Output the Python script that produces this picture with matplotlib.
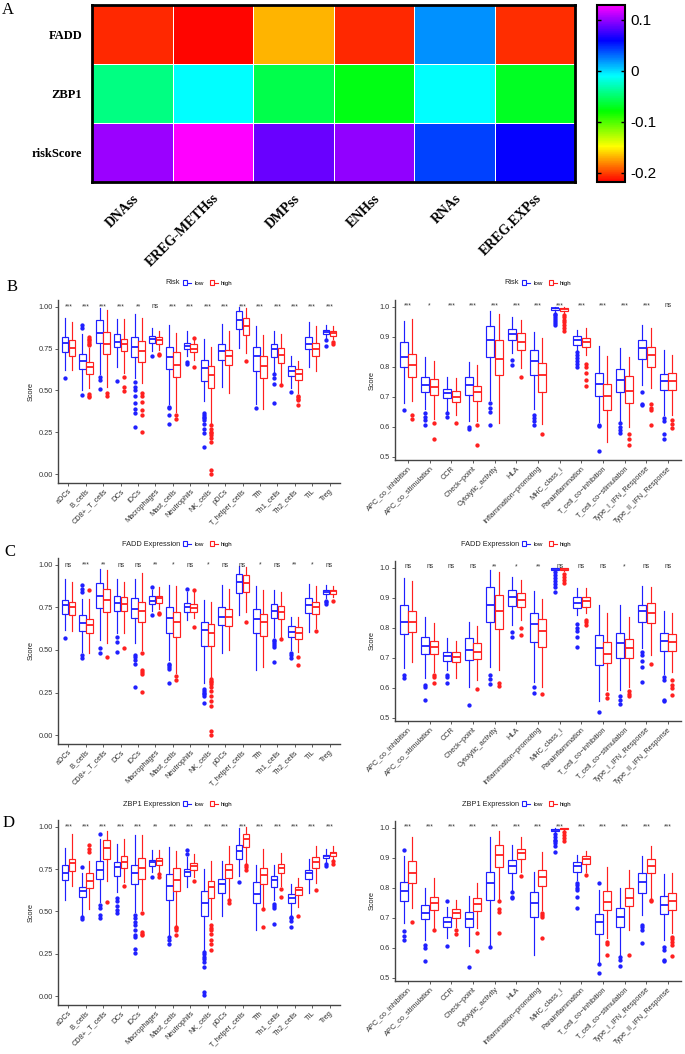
import matplotlib.pyplot as plt
import numpy as np
from matplotlib.colors import LinearSegmentedColormap
from matplotlib.patches import Patch
from matplotlib.lines import Line2D
from matplotlib.legend_handler import HandlerTuple

plt.rcParams['font.family'] = ['Liberation Sans', 'DejaVu Sans']

# ---- panel A data: correlation with stemness indices ----
hm_rows = ['FADD', 'ZBP1', 'riskScore']
hm_cols = ['DNAss', 'EREG-METHss', 'DMPss', 'ENHss', 'RNAs', 'EREG.EXPss']
fadd_cor = [-0.206, -0.216, -0.169, -0.206, 0.020, -0.205]
zbp1_cor = [-0.044, -0.010, -0.059, -0.073, -0.010, -0.070]
risk_cor = [0.101, 0.129, 0.087, 0.099, 0.042, 0.060]

# ---- boxplot categories ----
cells = ['aDCs', 'B_cells', 'CD8+_T_cells', 'DCs', 'iDCs', 'Macrophages', 'Mast_cells',
         'Neutrophils', 'NK_cells', 'pDCs', 'T_helper_cells', 'Tfh', 'Th1_cells',
         'Th2_cells', 'TIL', 'Treg']
funcs = ['APC_co_inhibition', 'APC_co_stimulation', 'CCR', 'Check\u2212point',
         'Cytolytic_activity', 'HLA', 'Inflammation\u2212promoting', 'MHC_class_I',
         'Parainflammation', 'T_cell_co\u2212inhibition', 'T_cell_co\u2212stimulation',
         'Type_I_IFN_Response', 'Type_II_IFN_Response']

# box stats: (whislo, q1, median, q3, whishi)
# B: risk groups, immune cells
b_cell_low = [(0.62, 0.729, 0.782, 0.818, 0.932), (0.503, 0.629, 0.677, 0.719, 0.84),
              (0.60, 0.786, 0.846, 0.918, 0.992), (0.643, 0.758, 0.792, 0.836, 0.926),
              (0.573, 0.699, 0.759, 0.818, 0.958), (0.733, 0.786, 0.806, 0.826, 0.872),
              (0.42, 0.627, 0.699, 0.762, 0.892), (0.703, 0.746, 0.766, 0.786, 0.858),
              (0.44, 0.557, 0.633, 0.683, 0.806), (0.523, 0.683, 0.733, 0.776, 0.898),
              (0.753, 0.866, 0.918, 0.972, 1.0), (0.42, 0.619, 0.703, 0.759, 0.882),
              (0.613, 0.699, 0.749, 0.778, 0.856), (0.513, 0.587, 0.619, 0.649, 0.707),
              (0.639, 0.746, 0.778, 0.818, 0.906), (0.812, 0.836, 0.852, 0.862, 0.892)]
b_cell_low_out = [[0.577], [0.89, 0.875, 0.476], [0.58, 0.56, 0.51], [0.559],
                  [0.553, 0.52, 0.50, 0.47, 0.423, 0.387, 0.367, 0.283], [0.707],
                  [0.403, 0.393, 0.353, 0.303], [0.669, 0.659],
                  [0.363, 0.353, 0.343, 0.333, 0.323, 0.303, 0.273, 0.244, 0.164], [], [],
                  [0.395], [0.597, 0.573, 0.539, 0.423], [0.493], [], [0.80, 0.765]]
b_cell_high = [(0.62, 0.707, 0.753, 0.802, 0.906), (0.516, 0.596, 0.639, 0.668, 0.753),
               (0.523, 0.719, 0.778, 0.852, 0.978), (0.603, 0.733, 0.778, 0.806, 0.926),
               (0.543, 0.673, 0.733, 0.798, 0.932), (0.742, 0.778, 0.802, 0.822, 0.858),
               (0.37, 0.583, 0.653, 0.727, 0.846), (0.683, 0.727, 0.75, 0.776, 0.80),
               (0.30, 0.517, 0.593, 0.649, 0.762), (0.483, 0.653, 0.703, 0.742, 0.858),
               (0.722, 0.832, 0.886, 0.932, 0.99), (0.39, 0.573, 0.647, 0.707, 0.832),
               (0.547, 0.667, 0.713, 0.753, 0.838), (0.483, 0.563, 0.599, 0.629, 0.677),
               (0.619, 0.707, 0.746, 0.782, 0.886), (0.806, 0.826, 0.842, 0.856, 0.882)]
b_cell_high_out = [[], [0.82, 0.81, 0.80, 0.79, 0.78, 0.77, 0.48, 0.47, 0.46], [0.483, 0.469],
                   [0.583, 0.523, 0.497], [0.483, 0.469, 0.433, 0.383, 0.353, 0.253],
                   [0.72, 0.71], [0.353, 0.327], [0.812, 0.643],
                   [0.293, 0.273, 0.254, 0.244, 0.234, 0.214, 0.194, 0.024, 0.0], [],
                   [0.675], [], [0.53], [0.47, 0.46, 0.45, 0.443, 0.413], [], [0.79, 0.78]]
b_cell_sig = ['***', '***', '***', '***', '**', 'ns', '***', '***', '***', '***', '***',
              '***', '***', '***', '***', '***']

# B: risk groups, immune functions
b_func_low = [(0.68, 0.799, 0.834, 0.882, 0.953), (0.66, 0.718, 0.74, 0.766, 0.834),
              (0.65, 0.698, 0.712, 0.726, 0.766), (0.62, 0.707, 0.74, 0.766, 0.817),
              (0.69, 0.833, 0.889, 0.936, 0.986), (0.846, 0.89, 0.91, 0.925, 0.965),
              (0.66, 0.773, 0.82, 0.857, 0.918), (0.984, 0.99, 0.995, 0.998, 1.0),
              (0.857, 0.873, 0.89, 0.903, 0.923), (0.617, 0.703, 0.742, 0.78, 0.87),
              (0.62, 0.718, 0.757, 0.792, 0.862), (0.74, 0.828, 0.862, 0.889, 0.94),
              (0.64, 0.723, 0.754, 0.777, 0.857)]
b_func_low_out = [[0.657], [0.646, 0.634, 0.623, 0.607], [0.646, 0.634], [0.601, 0.592],
                  [0.679, 0.662, 0.651, 0.607], [0.824, 0.807], [0.64, 0.63, 0.62, 0.605],
                  [0.978, 0.972, 0.966, 0.96, 0.953, 0.946, 0.94],
                  [0.85, 0.84, 0.83, 0.82, 0.81, 0.80], [0.607, 0.604, 0.52],
                  [0.612, 0.60, 0.59, 0.58], [0.718, 0.678, 0.673],
                  [0.63, 0.62, 0.578, 0.56]]
b_func_high = [(0.686, 0.766, 0.808, 0.843, 0.96), (0.628, 0.706, 0.733, 0.759, 0.82),
               (0.64, 0.682, 0.699, 0.719, 0.763), (0.62, 0.687, 0.718, 0.738, 0.806),
               (0.612, 0.773, 0.828, 0.889, 0.978), (0.796, 0.857, 0.884, 0.912, 0.958),
               (0.61, 0.718, 0.773, 0.813, 0.896), (0.98, 0.988, 0.993, 0.997, 1.0),
               (0.84, 0.866, 0.884, 0.896, 0.93), (0.55, 0.657, 0.702, 0.742, 0.836),
               (0.60, 0.681, 0.721, 0.77, 0.832), (0.73, 0.801, 0.84, 0.868, 0.93),
               (0.64, 0.723, 0.753, 0.781, 0.84)]
b_func_high_out = [[0.64, 0.628], [0.612, 0.559], [0.612], [0.607, 0.54], [], [0.768],
                   [0.577], [0.973, 0.965, 0.958, 0.95, 0.94, 0.93, 0.92],
                   [0.81, 0.80, 0.78, 0.755, 0.735], [], [0.577, 0.56, 0.54],
                   [0.677, 0.664, 0.657, 0.607], [0.623, 0.61, 0.596]]
b_func_sig = ['***', '*', '***', '***', '***', '***', '***', '***', '***', '***', '***',
              '***', 'ns']

# C: FADD expression, immune cells
c_cell_low = [(0.618, 0.712, 0.765, 0.794, 0.916), (0.49, 0.612, 0.661, 0.704, 0.80),
              (0.559, 0.745, 0.814, 0.892, 0.974), (0.598, 0.731, 0.775, 0.818, 0.916),
              (0.539, 0.686, 0.739, 0.804, 0.916), (0.726, 0.771, 0.79, 0.814, 0.85),
              (0.441, 0.598, 0.686, 0.751, 0.88), (0.676, 0.725, 0.751, 0.775, 0.84),
              (0.304, 0.524, 0.618, 0.663, 0.794), (0.48, 0.647, 0.696, 0.751, 0.88),
              (0.706, 0.837, 0.898, 0.947, 0.994), (0.382, 0.598, 0.682, 0.741, 0.873),
              (0.578, 0.69, 0.731, 0.769, 0.85), (0.50, 0.578, 0.608, 0.641, 0.692),
              (0.608, 0.72, 0.765, 0.804, 0.888), (0.804, 0.829, 0.843, 0.853, 0.88)]
c_cell_low_out = [[0.57], [0.88, 0.86, 0.843, 0.47, 0.45], [0.51, 0.48], [0.578, 0.549, 0.49],
                  [0.47, 0.46, 0.44, 0.42, 0.284], [0.868, 0.706],
                  [0.42, 0.41, 0.40, 0.39, 0.304], [0.857],
                  [0.27, 0.26, 0.25, 0.24, 0.23, 0.186], [], [], [],
                  [0.56, 0.55, 0.54, 0.53, 0.52, 0.432], [0.48, 0.47, 0.45], [],
                  [0.79, 0.78, 0.77]]
c_cell_high = [(0.614, 0.706, 0.755, 0.784, 0.897), (0.48, 0.598, 0.647, 0.682, 0.80),
               (0.539, 0.725, 0.794, 0.857, 0.97), (0.60, 0.731, 0.771, 0.81, 0.897),
               (0.50, 0.667, 0.731, 0.784, 0.951), (0.739, 0.778, 0.804, 0.818, 0.87),
               (0.363, 0.578, 0.667, 0.725, 0.873), (0.686, 0.725, 0.749, 0.771, 0.84),
               (0.343, 0.524, 0.598, 0.651, 0.784), (0.50, 0.641, 0.692, 0.741, 0.857),
               (0.725, 0.843, 0.892, 0.941, 0.99), (0.402, 0.582, 0.663, 0.712, 0.85),
               (0.578, 0.682, 0.725, 0.761, 0.84), (0.49, 0.563, 0.602, 0.637, 0.692),
               (0.63, 0.712, 0.755, 0.78, 0.876), (0.81, 0.83, 0.845, 0.855, 0.876)]
c_cell_high_out = [[], [0.853], [0.461], [0.51], [0.48, 0.38, 0.37, 0.36, 0.253], [0.72, 0.71],
                   [0.347, 0.324], [0.853, 0.633],
                   [0.33, 0.32, 0.31, 0.30, 0.28, 0.26, 0.23, 0.20, 0.17, 0.025, 0.0], [],
                   [0.667], [], [0.563], [0.461, 0.412], [0.61], [0.79]]
c_cell_sig = ['ns', '***', '**', 'ns', 'ns', '**', '*', 'ns', '*', 'ns', 'ns', '*', 'ns',
              '**', '*', 'ns']

# C: FADD expression, immune functions
c_func_low = [(0.665, 0.78, 0.82, 0.877, 0.966), (0.632, 0.713, 0.74, 0.771, 0.838),
              (0.66, 0.691, 0.707, 0.721, 0.765), (0.604, 0.693, 0.727, 0.765, 0.821),
              (0.67, 0.819, 0.877, 0.936, 0.993), (0.81, 0.873, 0.904, 0.927, 0.97),
              (0.621, 0.752, 0.812, 0.851, 0.922), (0.99, 0.994, 0.997, 0.999, 1.0),
              (0.843, 0.866, 0.884, 0.902, 0.932), (0.555, 0.677, 0.732, 0.777, 0.877),
              (0.593, 0.701, 0.749, 0.784, 0.877), (0.732, 0.821, 0.855, 0.877, 0.94),
              (0.648, 0.723, 0.755, 0.782, 0.855)]
c_func_low_out = [[0.642, 0.632], [0.61, 0.602, 0.56], [0.643, 0.635, 0.615], [0.543],
                  [0.642, 0.63, 0.613], [0.788, 0.771], [0.602, 0.582],
                  [0.985, 0.975, 0.965, 0.955, 0.945, 0.935, 0.921],
                  [0.813, 0.80, 0.79, 0.77, 0.735], [0.521], [0.573, 0.56, 0.547],
                  [0.72, 0.71, 0.69, 0.67, 0.621], [0.635, 0.628, 0.56, 0.555]]
c_func_high = [(0.688, 0.785, 0.821, 0.858, 0.955), (0.654, 0.713, 0.735, 0.757, 0.818),
               (0.632, 0.688, 0.704, 0.721, 0.757), (0.627, 0.697, 0.719, 0.751, 0.807),
               (0.66, 0.796, 0.855, 0.91, 0.988), (0.827, 0.871, 0.893, 0.916, 0.96),
               (0.604, 0.737, 0.791, 0.829, 0.896), (0.99, 0.993, 0.996, 0.999, 1.0),
               (0.849, 0.871, 0.89, 0.902, 0.932), (0.593, 0.684, 0.713, 0.752, 0.851),
               (0.604, 0.699, 0.732, 0.763, 0.836), (0.71, 0.816, 0.851, 0.884, 0.937),
               (0.654, 0.724, 0.752, 0.78, 0.849)]
c_func_high_out = [[], [0.643, 0.635, 0.615], [], [0.595], [0.615, 0.607], [0.799, 0.777],
                   [0.579], [0.98, 0.97, 0.96, 0.95], [0.827, 0.82, 0.81], [0.58, 0.565],
                   [0.59, 0.58, 0.573], [0.68], [0.628, 0.61, 0.60, 0.575]]
c_func_sig = ['ns', 'ns', 'ns', 'ns', '**', '*', '**', 'ns', 'ns', 'ns', '*', 'ns', 'ns']

# D: ZBP1 expression, immune cells
d_cell_low = [(0.569, 0.686, 0.725, 0.776, 0.875), (0.476, 0.584, 0.618, 0.647, 0.725),
              (0.555, 0.692, 0.745, 0.796, 0.93), (0.614, 0.712, 0.761, 0.79, 0.898),
              (0.496, 0.663, 0.727, 0.776, 0.95), (0.731, 0.771, 0.79, 0.804, 0.863),
              (0.359, 0.569, 0.653, 0.722, 0.882), (0.643, 0.712, 0.731, 0.751, 0.82),
              (0.271, 0.476, 0.551, 0.618, 0.751), (0.476, 0.608, 0.663, 0.692, 0.80),
              (0.712, 0.81, 0.859, 0.894, 0.99), (0.388, 0.549, 0.604, 0.672, 0.776),
              (0.565, 0.647, 0.686, 0.712, 0.776), (0.476, 0.549, 0.58, 0.604, 0.663),
              (0.608, 0.692, 0.725, 0.747, 0.81), (0.79, 0.814, 0.825, 0.835, 0.868)]
d_cell_low_out = [[], [0.765, 0.47, 0.453], [0.957, 0.54, 0.52, 0.48, 0.46],
                  [0.58, 0.56, 0.53, 0.51, 0.49],
                  [0.478, 0.46, 0.44, 0.42, 0.39, 0.36, 0.35, 0.28, 0.254], [0.706],
                  [0.35, 0.33, 0.31], [0.86, 0.84],
                  [0.26, 0.25, 0.23, 0.22, 0.20, 0.17, 0.025, 0.005], [], [0.673], [],
                  [0.545, 0.53, 0.52, 0.424], [0.47, 0.46, 0.445, 0.41], [], [0.78, 0.77]]
d_cell_high = [(0.653, 0.741, 0.784, 0.81, 0.96), (0.516, 0.639, 0.678, 0.725, 0.796),
               (0.682, 0.81, 0.875, 0.92, 0.976), (0.672, 0.757, 0.79, 0.829, 0.93),
               (0.506, 0.692, 0.755, 0.816, 0.95), (0.731, 0.776, 0.80, 0.816, 0.863),
               (0.418, 0.62, 0.686, 0.757, 0.859), (0.702, 0.745, 0.767, 0.784, 0.839),
               (0.457, 0.58, 0.643, 0.678, 0.80), (0.575, 0.696, 0.745, 0.78, 0.888),
               (0.78, 0.882, 0.93, 0.96, 1.0), (0.525, 0.663, 0.718, 0.755, 0.868),
               (0.653, 0.727, 0.757, 0.78, 0.843), (0.525, 0.598, 0.624, 0.647, 0.698),
               (0.667, 0.757, 0.79, 0.82, 0.888), (0.80, 0.829, 0.843, 0.853, 0.888)]
d_cell_high_out = [[], [0.89, 0.87, 0.85], [0.555], [0.653], [0.49, 0.38, 0.37, 0.36],
                   [0.72, 0.706], [0.41, 0.40, 0.39, 0.36], [0.682],
                   [0.418, 0.40, 0.39, 0.37, 0.33, 0.31, 0.27], [0.565, 0.55],
                   [0.776, 0.76, 0.745], [0.516, 0.41], [0.633, 0.588], [0.476], [0.627],
                   [0.796, 0.78]]
d_cell_sig = ['***', '***', '***', '***', '***', '**', '***', '***', '***', '***', '***',
              '***', '***', '***', '***', '***']

# D: ZBP1 expression, immune functions
d_func_low = [(0.683, 0.758, 0.791, 0.821, 0.907), (0.627, 0.696, 0.718, 0.743, 0.799),
              (0.632, 0.671, 0.688, 0.704, 0.738), (0.607, 0.671, 0.696, 0.721, 0.773),
              (0.61, 0.76, 0.815, 0.854, 0.97), (0.793, 0.851, 0.873, 0.893, 0.943),
              (0.577, 0.702, 0.751, 0.788, 0.854), (0.987, 0.99, 0.993, 0.995, 1.0),
              (0.827, 0.854, 0.873, 0.888, 0.91), (0.55, 0.646, 0.685, 0.713, 0.793),
              (0.577, 0.669, 0.704, 0.732, 0.799), (0.71, 0.784, 0.821, 0.851, 0.907),
              (0.627, 0.713, 0.743, 0.773, 0.846)]
d_func_low_out = [[0.927, 0.655, 0.64, 0.628], [0.61, 0.60, 0.557], [0.757, 0.607], [0.538],
                  [0.604], [0.785, 0.77, 0.765], [],
                  [0.98, 0.97, 0.96, 0.955, 0.95, 0.94, 0.92],
                  [0.815, 0.81, 0.80, 0.793, 0.771, 0.732], [0.815, 0.548, 0.517],
                  [0.569, 0.56, 0.54], [0.677, 0.67, 0.66, 0.615],
                  [0.604, 0.593, 0.56, 0.555]]
d_func_high = [(0.732, 0.818, 0.851, 0.891, 0.97), (0.666, 0.727, 0.751, 0.771, 0.832),
               (0.669, 0.699, 0.718, 0.73, 0.76), (0.666, 0.724, 0.746, 0.768, 0.815),
               (0.76, 0.871, 0.91, 0.943, 0.99), (0.854, 0.897, 0.918, 0.929, 0.97),
               (0.727, 0.807, 0.836, 0.86, 0.921), (0.99, 0.995, 0.997, 0.999, 1.0),
               (0.854, 0.88, 0.895, 0.907, 0.924), (0.632, 0.727, 0.754, 0.791, 0.871),
               (0.66, 0.74, 0.768, 0.799, 0.86), (0.766, 0.849, 0.873, 0.896, 0.94),
               (0.649, 0.727, 0.757, 0.782, 0.851)]
d_func_high_out = [[0.688], [0.66], [0.66, 0.645], [0.649, 0.591], [0.755, 0.73, 0.72, 0.649],
                   [0.84], [0.718, 0.71, 0.702, 0.632], [0.985, 0.975, 0.965, 0.958],
                   [0.843], [0.62, 0.613, 0.577], [0.577], [0.76, 0.755],
                   [0.638, 0.63, 0.62, 0.61, 0.573]]
d_func_sig = ['***'] * 13

BLUE = '#1f1fff'
RED = '#ff1f1f'
W, H = 685, 1054

fig = plt.figure(figsize=(W / 100, H / 100), dpi=100)


def px_axes(x0, y0, x1, y1):
    # axes from pixel box (top-left origin)
    return fig.add_axes([x0 / W, 1 - y1 / H, (x1 - x0) / W, (y1 - y0) / H])


# ---------------- panel A ----------------
cmap = LinearSegmentedColormap.from_list(
    'rb', ['#FF0000', '#FFFF00', '#00FF00', '#00FFFF', '#0000FF', '#FF00FF'])
ax = px_axes(92, 5, 575, 182)
mat = np.array([fadd_cor, zbp1_cor, risk_cor])
mesh = ax.pcolormesh(mat, cmap=cmap, vmin=-0.218, vmax=0.129,
                     edgecolors='white', linewidth=0.5)
ax.set_ylim(len(hm_rows), 0)
ax.set_yticks(np.arange(len(hm_rows)) + 0.5)
ax.set_yticklabels(hm_rows, family='Liberation Serif', fontweight='bold', fontsize=9)
ax.set_xticks(np.arange(len(hm_cols)) + 0.5)
ax.set_xticklabels(hm_cols, family='Liberation Serif', fontweight='bold', fontsize=10,
                   rotation=45, ha='right', va='top', rotation_mode='anchor')
ax.tick_params(length=0, pad=7)
for s in ax.spines.values():
    s.set_linewidth(2)
    s.set_color('black')

cax = px_axes(597, 5, 625, 182)
cb = fig.colorbar(mesh, cax=cax, ticks=[0.1, 0, -0.1, -0.2])
cb.ax.set_yticklabels(['0.1', '0', '-0.1', '-0.2'])
cb.outline.set_linewidth(1.5)
cb.ax.tick_params(direction='in', left=True, right=True, length=3, width=1,
                  labelsize=11, pad=4)

# ---------------- boxplot panels ----------------


def box_panel(ax, cats, low, high, low_out, high_out, sig, ylim, yticks, ylabs, sig_y):
    pos = np.arange(1, len(cats) + 1)
    for stats, outs, off, col in [(low, low_out, -0.2, BLUE), (high, high_out, 0.2, RED)]:
        st = [dict(whislo=s[0], q1=s[1], med=s[2], q3=s[3], whishi=s[4], fliers=o)
              for s, o in zip(stats, outs)]
        ax.bxp(st, positions=pos + off, widths=0.38, patch_artist=True, showcaps=False,
               boxprops=dict(facecolor='white', edgecolor=col, linewidth=0.85),
               whiskerprops=dict(color=col, linewidth=0.85),
               medianprops=dict(color=col, linewidth=1.3),
               flierprops=dict(marker='o', markersize=2.1, markerfacecolor=col,
                               markeredgecolor=col, linestyle='none'))
    for x, s in zip(pos, sig):
        ax.text(x, sig_y, s, ha='center', va='baseline', fontsize=4.8, color='#333333')
    ax.set_xlim(0.4, len(cats) + 0.6)
    ax.set_ylim(*ylim)
    ax.set_yticks(yticks)
    ax.set_yticklabels(ylabs)
    ax.set_xticks(pos)
    ax.set_xticklabels(cats, rotation=45, ha='right', va='top', rotation_mode='anchor')
    ax.set_ylabel('Score', fontsize=5.3, color='#222222', labelpad=3)
    for side in ['top', 'right']:
        ax.spines[side].set_visible(False)
    for side in ['left', 'bottom']:
        ax.spines[side].set_color('#444444')
        ax.spines[side].set_linewidth(1.0)
    ax.tick_params(length=2, width=0.6, color='#444444', labelsize=5.3,
                   labelcolor='#333333', pad=1.5)


def add_legend(title, x_end, y):
    fig.text(x_end / W, 1 - y / H, title, ha='right', va='center', fontsize=5.3,
             color='#222222')
    handles = [(Patch(facecolor='white', edgecolor=c, linewidth=0.8),
                Line2D([], [], color=c, linewidth=0.8)) for c in (BLUE, RED)]
    fig.legend(handles, ['low', 'high'], handler_map={tuple: HandlerTuple(ndivide=None)},
               loc='center left', bbox_to_anchor=((x_end + 3) / W, 1 - y / H), ncol=2,
               frameon=False, fontsize=4.5, handlelength=1.3, handleheight=0.9,
               handletextpad=0.5, columnspacing=1.0, borderpad=0, borderaxespad=0)


left_ticks = [0.0, 0.25, 0.5, 0.75, 1.0]
left_labs = ['0.00', '0.25', '0.50', '0.75', '1.00']
right_ticks = [0.5, 0.6, 0.7, 0.8, 0.9, 1.0]
right_labs = ['0.5', '0.6', '0.7', '0.8', '0.9', '1.0']

rows = [
    (300, 483, 300, 460, 283, 'Risk',
     b_cell_low, b_cell_high, b_cell_low_out, b_cell_high_out, b_cell_sig,
     b_func_low, b_func_high, b_func_low_out, b_func_high_out, b_func_sig),
    (558, 744, 561, 721, 544, 'FADD Expression',
     c_cell_low, c_cell_high, c_cell_low_out, c_cell_high_out, c_cell_sig,
     c_func_low, c_func_high, c_func_low_out, c_func_high_out, c_func_sig),
    (820, 1005, 821, 981, 804, 'ZBP1 Expression',
     d_cell_low, d_cell_high, d_cell_low_out, d_cell_high_out, d_cell_sig,
     d_func_low, d_func_high, d_func_low_out, d_func_high_out, d_func_sig),
]

for (lt, lb, rt, rb, ly, title, cl, ch, clo, cho, csig, fl, fh, flo, fho, fsig) in rows:
    axl = px_axes(58, lt, 340, lb)
    box_panel(axl, cells, cl, ch, clo, cho, csig, (-0.052, 1.04), left_ticks, left_labs, 0.99)
    axr = px_axes(395, rt, 681, rb)
    box_panel(axr, funcs, fl, fh, flo, fho, fsig, (0.49, 1.023), right_ticks, right_labs, 1.0)
    add_legend(title, 180, ly)
    add_legend(title, 519, ly)

# panel letters
for letter, x, y in [('A', 8, 10), ('B', 12, 287), ('C', 10, 552), ('D', 9, 823)]:
    fig.text(x / W, 1 - y / H, letter, ha='center', va='center', fontsize=12,
             family='Liberation Serif')

fig.savefig('out.png', dpi=100)
